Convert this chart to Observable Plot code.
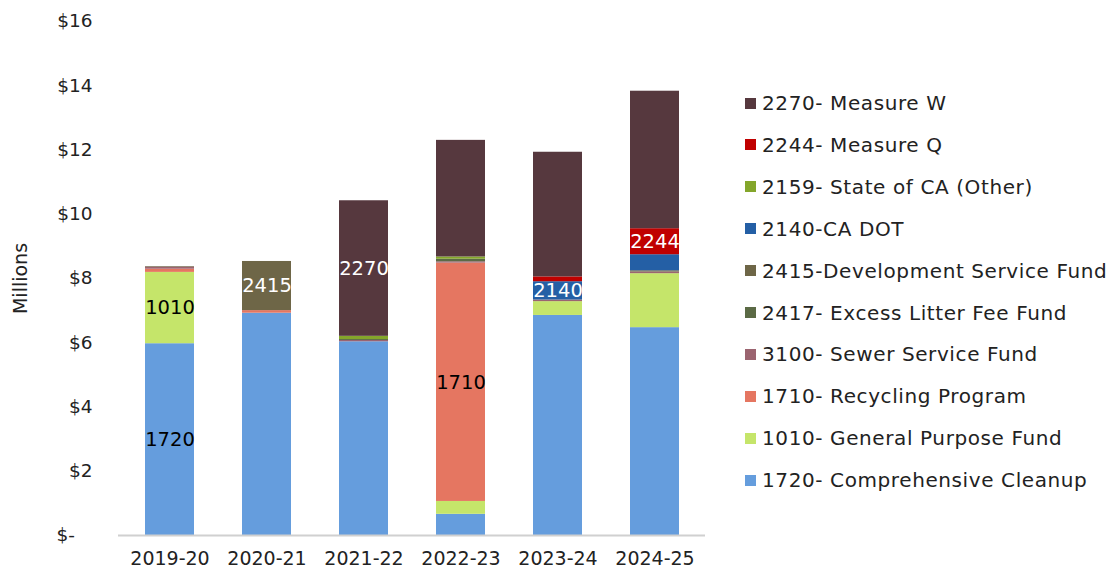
<!DOCTYPE html>
<html>
<head>
<meta charset="utf-8">
<script src="https://cdn.jsdelivr.net/npm/d3@7"></script>
<script src="https://cdn.jsdelivr.net/npm/@observablehq/plot@0.6"></script>
<style>
  html, body { margin: 0; padding: 0; background: #fff; }
  #wrap { position: relative; width: 1115px; height: 573px; font-family: "DejaVu Sans", sans-serif; }
  #chart { position: absolute; left: 0; top: 0; }
  #legend { position: absolute; left: 745px; top: 0; }
  .item { position: absolute; left: 0; white-space: nowrap; font-size: 20px; letter-spacing: 0.6px; color: #222; display: flex; align-items: center; }
  .sw { width: 11px; height: 11px; margin-right: 6px; }
</style>
</head>
<body>
<div id="wrap"><div id="chart"></div><div id="legend"></div></div>
<script>
// Fiscal years (categories)
const years = ["2019-20", "2020-21", "2021-22", "2022-23", "2023-24", "2024-25"];

// Funds, bottom of the stack first
const funds = ["1720", "1010", "1710", "3100", "2417", "2415", "2140", "2159", "2244", "2270"];
const fundNames = [
  "1720- Comprehensive Cleanup",
  "1010- General Purpose Fund",
  "1710- Recycling Program",
  "3100- Sewer Service Fund",
  "2417- Excess Litter Fee Fund",
  "2415-Development Service Fund",
  "2140-CA DOT",
  "2159- State of CA (Other)",
  "2244- Measure Q",
  "2270- Measure W"
];
const fundColors = ["#659ddd", "#c5e56a", "#e57661", "#9b6470", "#5b6a45", "#6e6647", "#245fa5", "#84a62b", "#c00000", "#56383e"];

// Values in $ millions, one array per fund (aligned with years)
const f1720 = [5.97, 6.92, 6.03, 0.66, 6.85, 6.47];
const f1010 = [2.22, 0.00, 0.00, 0.40, 0.43, 1.68];
const f1710 = [0.10, 0.08, 0.00, 7.42, 0.00, 0.00];
const f3100 = [0.06, 0.00, 0.04, 0.04, 0.05, 0.05];
const f2417 = [0.00, 0.00, 0.03, 0.08, 0.00, 0.00];
const f2415 = [0.02, 1.53, 0.00, 0.00, 0.00, 0.04];
const f2140 = [0.00, 0.00, 0.00, 0.00, 0.57, 0.50];
const f2159 = [0.00, 0.00, 0.10, 0.07, 0.00, 0.00];
const f2244 = [0.00, 0.00, 0.00, 0.00, 0.15, 0.81];
const f2270 = [0.00, 0.00, 4.22, 3.63, 3.88, 4.28];
const series = [f1720, f1010, f1710, f3100, f2417, f2415, f2140, f2159, f2244, f2270];

// Data labels shown in the chart: [year, fund, text colour]
const labels = [
  ["2019-20", "1720", "black"], ["2019-20", "1010", "black"],
  ["2020-21", "2415", "white"], ["2021-22", "2270", "white"],
  ["2022-23", "1710", "black"], ["2023-24", "2140", "white"],
  ["2024-25", "2244", "white"]
];

// y-axis ticks
const yTicks = [0, 2, 4, 6, 8, 10, 12, 14, 16];

const data = [];
years.forEach((y, i) => funds.forEach((f, j) => data.push({year: y, fund: f, value: series[j][i]})));

const labelFor = (colour) => (d) => {
  const hit = labels.find(l => l[0] === d.year && l[1] === d.fund && l[2] === colour);
  return hit ? d.fund : "";
};

const chart = Plot.plot({
  width: 720,
  height: 573,
  marginLeft: 118,
  marginRight: 15,
  marginTop: 21,
  marginBottom: 38,
  style: {fontFamily: "DejaVu Sans, sans-serif", fontSize: "18px", color: "#222", background: "#fff"},
  x: {domain: years, paddingInner: 0.5, paddingOuter: 0.25, label: null},
  y: {domain: [0, 16], label: null},
  color: {domain: funds, range: fundColors},
  marks: [
    Plot.barY(data, {x: "year", y: "value", fill: "fund", order: funds}),
    Plot.text(data, Plot.stackY({x: "year", y: "value", z: "fund", order: funds, text: labelFor("black"), fill: "black", fontSize: 19.5})),
    Plot.text(data, Plot.stackY({x: "year", y: "value", z: "fund", order: funds, text: labelFor("white"), fill: "white", fontSize: 19.5})),
    Plot.ruleY([0], {stroke: "#d0d0d0", strokeWidth: 2}),
    Plot.axisX({tickSize: 0, tickPadding: 16, fontSize: 19, label: null}),
    Plot.axisY({ticks: yTicks, tickSize: 0, tickPadding: 26, fontSize: 18.5,
      tickFormat: d => d === 0 ? "$-\u00a0\u00a0\u00a0" : "$" + d,
      label: "Millions", labelAnchor: "center", labelArrow: "none", labelOffset: 105})
  ]
});
chart.querySelectorAll("g[aria-label='y-axis label'] text").forEach(t => t.setAttribute("font-size", "19"));
document.getElementById("chart").appendChild(chart);

// Legend (top entry = top of stack)
const legend = document.getElementById("legend");
const order = funds.map((f, i) => i).reverse();
order.forEach((i, k) => {
  const div = document.createElement("div");
  div.className = "item";
  div.style.top = (103 + k * 41.9 - 12) + "px";
  div.style.height = "24px";
  div.innerHTML = `<span class="sw" style="background:${fundColors[i]}"></span><span>${fundNames[i]}</span>`;
  legend.appendChild(div);
});
</script>
</body>
</html>
